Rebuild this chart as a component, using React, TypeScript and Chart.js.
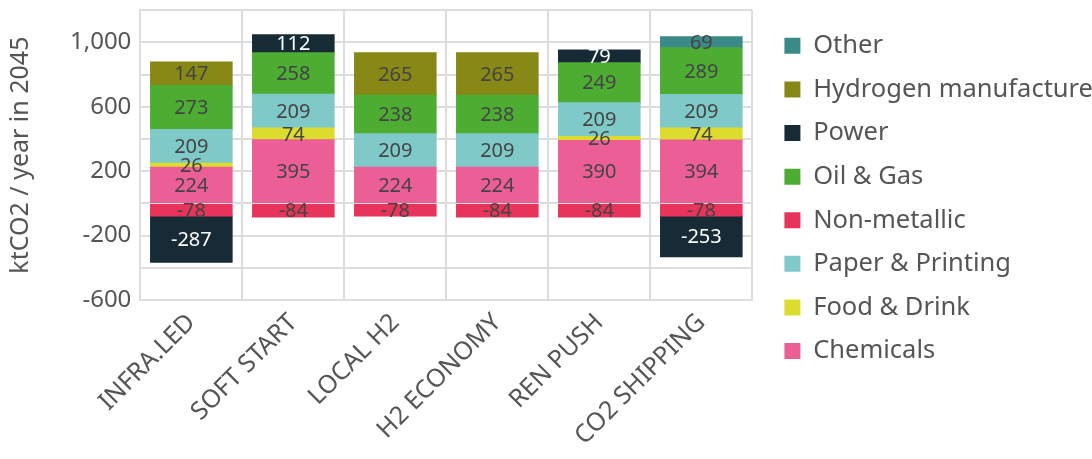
import React, { useEffect, useRef } from "react";
import { Chart, registerables } from "chart.js";

Chart.register(...registerables);

const categories = ["INFRA.LED", "SOFT START", "LOCAL H2", "H2 ECONOMY", "REN PUSH", "CO2 SHIPPING"];
const chemicals = [224, 395, 224, 224, 390, 394];
const foodDrink = [26, 74, null, null, 26, 74];
const paperPrinting = [209, 209, 209, 209, 209, 209];
const nonMetallic = [-78, -84, -78, -84, -84, -78];
const oilGas = [273, 258, 238, 238, 249, 289];
const power = [-287, 112, null, null, 79, -253];
const hydrogen = [147, null, 265, 265, null, null];
const other = [null, null, null, null, null, 69];

const FONT = "'Noto Sans', 'Open Sans', sans-serif";
const TEXT = "#555555";

const labelPlugin = {
  id: "barLabels",
  afterDatasetsDraw(chart: any) {
    const ctx = chart.ctx;
    ctx.save();
    ctx.font = `20px ${FONT}`;
    ctx.textAlign = "center";
    ctx.textBaseline = "middle";
    chart.data.datasets.forEach((ds: any, i: number) => {
      const meta = chart.getDatasetMeta(i);
      if (meta.hidden) return;
      meta.data.forEach((el: any, j: number) => {
        const v = ds.data[j];
        if (v === null || v === undefined || v === 0) return;
        ctx.fillStyle = ds.labelColor || "#444444";
        ctx.fillText(String(v), el.x, (el.y + el.base) / 2 + 1);
      });
    });
    ctx.restore();
  },
};

const legendShift = {
  id: "legendShift",
  afterLayout(chart: any) {
    if (chart.legend) {
      chart.legend.left += 14;
      chart.legend.right = chart.width;
    }
  },
};

export default function App() {
  const ref = useRef<HTMLCanvasElement>(null);
  useEffect(() => {
    document.body.style.margin = "0";
    const mk = (label: string, data: any[], color: string, labelColor?: string) => ({
      label,
      data,
      backgroundColor: color,
      borderWidth: 0,
      inflateAmount: 0.5,
      labelColor,
    });
    const chart = new Chart(ref.current as HTMLCanvasElement, {
      type: "bar",
      data: {
        labels: categories,
        datasets: [
          mk("Chemicals", chemicals, "#EC5E96"),
          mk("Food & Drink", foodDrink, "#DCDC2E"),
          mk("Paper & Printing", paperPrinting, "#7FCAC8"),
          mk("Non-metallic", nonMetallic, "#E8345A"),
          mk("Oil & Gas", oilGas, "#4DAD33"),
          mk("Power", power, "#172B36", "#ffffff"),
          mk("Hydrogen manufacture", hydrogen, "#888816"),
          mk("Other", other, "#3B8A8A"),
        ] as any,
      },
      options: {
        animation: false,
        responsive: false,
        maintainAspectRatio: false,
        layout: { padding: { top: 0, right: 3, bottom: 0, left: 6 } },
        datasets: { bar: { barPercentage: 1, categoryPercentage: 0.8 } },
        plugins: {
          legend: {
            position: "right",
            reverse: true,
            align: "start",
            maxWidth: 400,
            title: {
              display: true,
              text: " ",
              font: { size: 10, lineHeight: 1 },
              padding: { top: 5, bottom: 0 },
            },
            labels: {
              boxWidth: 16,
              boxHeight: 16,
              padding: 18.1,
              color: TEXT,
              font: { family: FONT, size: 25.5 },
            },
          },
          tooltip: { enabled: false },
        },
        scales: {
          x: {
            stacked: true,
            grid: { color: "#dddddd", lineWidth: 2, drawTicks: false, offset: true },
            border: { color: "#dddddd", width: 2 },
            ticks: {
              color: TEXT,
              font: { family: FONT, size: 25 },
              maxRotation: 45,
              minRotation: 45,
              autoSkip: false,
              padding: 8,
            },
          },
          y: {
            stacked: true,
            min: -600,
            max: 1200,
            grid: { color: "#dddddd", lineWidth: 2, drawTicks: false },
            border: { color: "#dddddd", width: 2 },
            ticks: {
              stepSize: 200,
              autoSkip: false,
              color: TEXT,
              font: { family: FONT, size: 24, lineHeight: 0.1 },
              padding: 9,
              callback: (v: any) =>
                (Number(v) + 600) % 400 === 0 ? Number(v).toLocaleString("en-US") : "",
            },
            title: {
              display: true,
              text: "ktCO2 / year in 2045",
              color: TEXT,
              font: { family: FONT, size: 25 },
              padding: { top: 0, bottom: 25 },
            },
          },
        },
      },
      plugins: [labelPlugin, legendShift],
    });
    return () => chart.destroy();
  }, []);
  return (
    <div style={{ width: 1092, height: 459 }}>
      <canvas ref={ref} width={1092} height={459} style={{ display: "block" }} />
    </div>
  );
}
